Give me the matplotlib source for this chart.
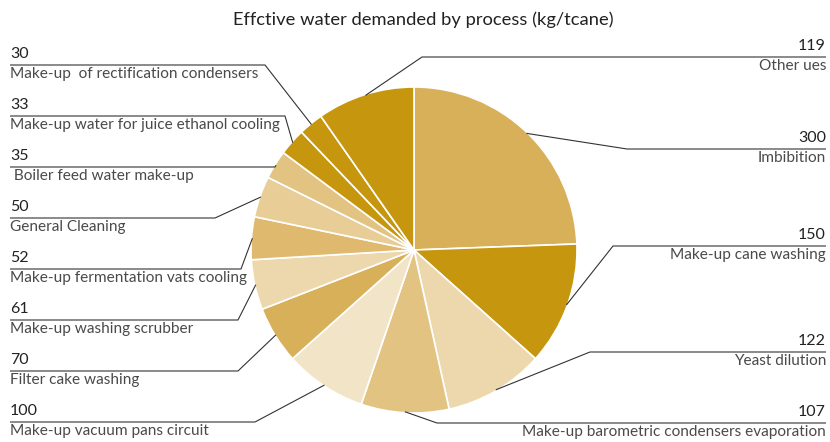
import numpy as np
import matplotlib.pyplot as plt

W, H = 830, 442  # canvas in pixels, axes use pixel units

processes = ['Imbibition', 'Make-up cane washing', 'Yeast dilution',
             'Make-up barometric condensers evaporation',
             'Make-up vacuum pans circuit', 'Filter cake washing',
             'Make-up washing scrubber', 'Make-up fermentation vats cooling',
             'General Cleaning', ' Boiler feed water make-up',
             'Make-up water for juice ethanol cooling',
             'Make-up  of rectification condensers', 'Other ues']
water = [300, 150, 122, 107, 100, 70, 61, 52, 50, 35, 33, 30, 119]

colors = ['#D8B05A', '#C6960F', '#EDD8AE', '#E2C382', '#F2E4C6', '#D8B05A',
          '#EDD8AE', '#DFB96E', '#E8CD97', '#E2C382', '#C6960F', '#C6960F',
          '#C6960F']

# label placement: side, underline y (px from top), elbow x
sides = ['R', 'R', 'R', 'R', 'L', 'L', 'L', 'L', 'L', 'L', 'L', 'L', 'R']
line_y = [149, 246, 352, 423, 422, 371, 320, 269, 218, 167, 116, 65, 57]
elbow_x = [627, 613, 590, 437, 255, 238, 238, 241, 215, 275, 285, 265, 422]

cx, cy, R = 414, H - 250, 163

fig = plt.figure(figsize=(W / 100, H / 100), dpi=100)
ax = fig.add_axes([0, 0, 1, 1])

wedges, _ = ax.pie(water, colors=colors, startangle=90, counterclock=False,
                   center=(cx, cy), radius=R,
                   wedgeprops=dict(edgecolor='white', linewidth=1.2))
ax.set_aspect('equal')
ax.set_xlim(0, W)
ax.set_ylim(0, H)
ax.axis('off')

ax.text(W / 2 + 8, H - 20, 'Effctive water demanded by process (kg/tcane)',
        ha='center', va='center', fontsize=13.2, family='Lato',
        color='#222222')

for w, name, val, side, ly, ex in zip(wedges, processes, water, sides,
                                      line_y, elbow_x):
    mid = np.deg2rad((w.theta1 + w.theta2) / 2)
    px = cx + (R - 1) * np.cos(mid)
    py = cy + (R - 1) * np.sin(mid)
    y = H - ly
    if side == 'R':
        x0, ha = 826, 'right'
    else:
        x0, ha = 10, 'left'
    ax.plot([x0, ex, px], [y, y, py], color='#333333', lw=0.8,
            solid_capstyle='butt')
    ax.text(x0, y + 4, str(val), ha=ha, va='bottom', fontsize=11.5,
            family='Lato', color='#222222')
    ax.text(x0, y - 2, name, ha=ha, va='top', fontsize=11.1,
            family='Lato', color='#4a4a4a')

fig.savefig('out.png', dpi=100)
